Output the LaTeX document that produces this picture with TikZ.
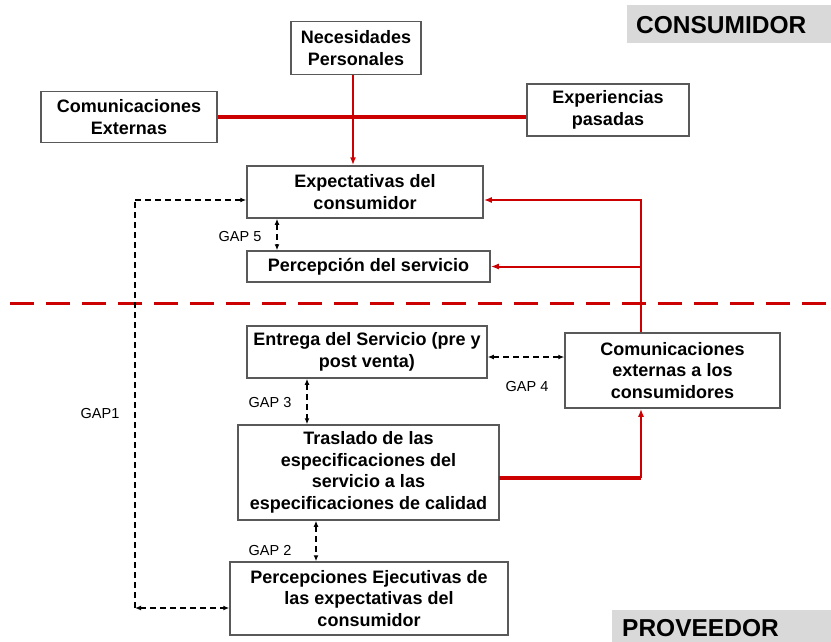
\documentclass[tikz,border=0pt]{standalone}
\usepackage{fontspec}
\setmainfont{Liberation Sans}
\usetikzlibrary{arrows.meta}
\definecolor{rd}{RGB}{204,0,0}
\definecolor{gb}{RGB}{217,217,217}
\begin{document}
\begin{tikzpicture}[x=1pt,y=-1pt,
  box/.style={draw=black!65, line width=1.5pt, fill=white, align=center,
    font=\bfseries\fontsize{18}{21.5}\selectfont, inner sep=0pt},
  side/.style={font=\bfseries\fontsize{24.5}{28}\selectfont, inner sep=0pt, anchor=west},
  lbl/.style={font=\fontsize{14.5}{17}\selectfont},
  redthin/.style={draw=rd, line width=2pt, -{Latex[length=8pt,width=6pt]}},
  redthick/.style={draw=rd, line width=3.5pt},
  gapd/.style={draw=black, line width=1.5pt, dash pattern=on 6pt off 4pt},
  gapa/.style={gapd, {Latex[length=6pt,width=5pt]}-{Latex[length=6pt,width=5pt]}}
]
\useasboundingbox (0,0) rectangle (831,642);

% side labels
\fill[gb] (627,5) rectangle (831,43);
\node[side] (cons) at (636,25) {CONSUMIDOR};
\fill[gb] (612,610) rectangle (831,642);
\node[side] (prov) at (622,628) {PROVEEDOR};

% boxes
\node[box, minimum width=130pt, minimum height=53pt] (nec) at (356,48) {Necesidades\\Personales};
\node[box, minimum width=176pt, minimum height=51pt] (ce) at (129,117) {Comunicaciones\\Externas};
\node[box, minimum width=162pt, minimum height=52pt] (ep) at (608,110) {Experiencias\\pasadas};
\node[box, minimum width=236pt, minimum height=52pt] (exp) at (365,192) {Expectativas del\\consumidor};
\node[box, minimum width=243pt, minimum height=31pt] (per) at (368.5,266.5) {Percepción del servicio};
\node[box, minimum width=240pt, minimum height=52pt] (ent) at (367,352) {Entrega del Servicio (pre y\\post venta)};
\node[box, minimum width=215pt, minimum height=75pt] (cea) at (672.5,370.5) {Comunicaciones\\externas a los\\consumidores};
\node[box, minimum width=261pt, minimum height=95pt] (tra) at (368.5,472.5) {Traslado de las\\especificaciones del\\servicio a las\\especificaciones de calidad};
\node[box, minimum width=278pt, minimum height=73pt] (pej) at (369,598.5) {Percepciones Ejecutivas de\\las expectativas del\\consumidor};

% GAP labels
\node[lbl] (g5) at (240,237) {GAP 5};
\node[lbl] (g4) at (527,387) {GAP 4};
\node[lbl] (g3) at (270,403) {GAP 3};
\node[lbl] (g2) at (270,551) {GAP 2};
\node[lbl] (g1) at (100,414) {GAP1};

% red separator
\draw[draw=rd, line width=3pt, dash pattern=on 24pt off 12pt] (10,303) -- (831,303);

% red connectors (consumer side)
\draw[redthick] (ce.east) -- (ce.east -| ep.west);
\coordinate (nx) at (353,0);
\draw[redthin] (nec.south -| nx) -- (exp.north -| nx);
\coordinate (rj) at (641,200);
\draw[redthin] (cea.north -| rj) -- (rj) -- (rj -| exp.east);
\draw[redthin] (rj |- per.east) -- (per.east);

% red connector (provider side)
\coordinate (tr) at (499,478);
\coordinate (tc) at (641,478);
\draw[redthick] (tr) -- (tc);
\draw[redthin] (tc) -- (cea.south -| tc);

% gaps
\coordinate (x5) at (277,0);
\draw[gapa] (exp.south -| x5) -- (per.north -| x5);
\coordinate (y4) at (0,357);
\draw[gapa] (ent.east |- y4) -- (cea.west |- y4);
\coordinate (x3) at (307,0);
\draw[gapa] (ent.south -| x3) -- (tra.north -| x3);
\coordinate (x2) at (316,0);
\draw[gapa] (tra.south -| x2) -- (pej.north -| x2);
\coordinate (g1t) at (135,200);
\coordinate (g1b) at (135,608);
\draw[gapd] (g1b) -- (g1t);
\draw[gapd, -{Latex[length=6pt,width=5pt]}] (g1t) -- (g1t -| exp.west);
\draw[gapa] (g1b) -- (g1b -| pej.west);
\end{tikzpicture}
\end{document}
